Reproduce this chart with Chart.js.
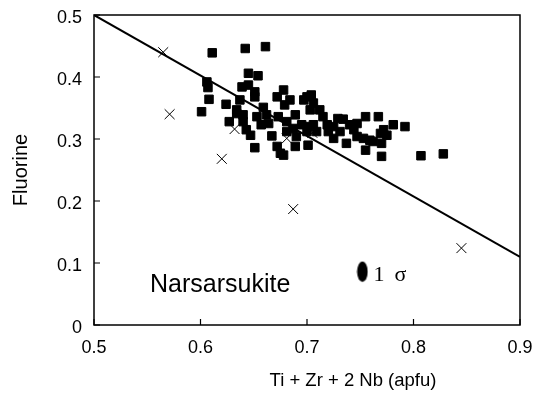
<!DOCTYPE html>
<html>
<head>
<meta charset="utf-8">
<script src="https://cdn.jsdelivr.net/npm/chart.js@4/dist/chart.umd.min.js"></script>
<style>
html,body{margin:0;padding:0;background:#fff;}
canvas{display:block;}
</style>
</head>
<body>
<canvas id="c" width="538" height="397"></canvas>
<script>
// Narsarsukite analyses (squares): Ti+Zr+2Nb vs F
const squareX = [0.611,0.642,0.661,0.606,0.607,0.608,0.601,0.624,0.645,0.654,0.639,0.645,0.651,0.651,0.637,0.634,0.640,0.640,0.627,0.659,0.647,0.651,0.657,0.664,0.667,0.672,0.675,0.678,0.673,0.672,0.678,0.684,0.679,0.681,0.689,0.687,0.689,0.695,0.697,0.700,0.704,0.706,0.703,0.712,0.715,0.719,0.720,0.701,0.700,0.701,0.725,0.729,0.734,0.731,0.737,0.740,0.747,0.755,0.747,0.753,0.755,0.759,0.762,0.767,0.769,0.772,0.770,0.775,0.781,0.792,0.770,0.807,0.828,0.653,0.662,0.643,0.634,0.681,0.690,0.706,0.725,0.744,0.709];
const squareY = [0.439,0.446,0.449,0.392,0.383,0.364,0.344,0.356,0.406,0.402,0.384,0.387,0.368,0.376,0.363,0.341,0.339,0.328,0.328,0.351,0.306,0.286,0.323,0.325,0.305,0.288,0.277,0.274,0.336,0.368,0.379,0.363,0.355,0.328,0.339,0.317,0.288,0.323,0.363,0.368,0.371,0.358,0.347,0.347,0.336,0.323,0.312,0.320,0.312,0.290,0.301,0.333,0.332,0.312,0.293,0.323,0.325,0.336,0.304,0.301,0.282,0.298,0.296,0.336,0.309,0.315,0.293,0.306,0.323,0.320,0.272,0.273,0.276,0.336,0.339,0.315,0.347,0.312,0.304,0.323,0.320,0.315,0.312];
// crosses
const crossX = [0.565,0.571,0.620,0.632,0.681,0.687,0.705,0.845];
const crossY = [0.440,0.340,0.268,0.316,0.301,0.187,0.310,0.124];
// reference line
const lineX = [0.5, 0.9];
const lineY = [0.5, 0.11];
// 1 sigma error symbol
const sigmaX = [0.752];
const sigmaY = [0.086];
// axis ticks
const xTicks = [0.5,0.6,0.7,0.8,0.9];
const yTicks = [0,0.1,0.2,0.3,0.4,0.5];
const xTitle = 'Ti + Zr + 2 Nb (apfu)';

const pts = (xs, ys) => xs.map((x,i)=>({x:x, y:ys[i]}));

// ellipse point style
const ell = document.createElement('canvas');
ell.width = 12; ell.height = 22;
(function(){
  const c = ell.getContext('2d');
  c.fillStyle = '#000';
  c.beginPath();
  c.ellipse(6, 11, 5.3, 10.2, 0, 0, Math.PI*2);
  c.fill();
})();

const framePlugin = {
  id: 'frame',
  afterDatasetsDraw(chart){
    const {ctx, chartArea: a, scales} = chart;
    ctx.save();
    ctx.strokeStyle = '#000';
    ctx.lineWidth = 1.5;
    ctx.strokeRect(a.left, a.top, a.right - a.left, a.bottom - a.top);
    ctx.lineWidth = 1.2;
    ctx.beginPath();
    xTicks.forEach(v => {
      const px = scales.x.getPixelForValue(v);
      ctx.moveTo(px, a.bottom); ctx.lineTo(px, a.bottom - 6);
    });
    yTicks.forEach(v => {
      const py = scales.y.getPixelForValue(v);
      ctx.moveTo(a.left, py); ctx.lineTo(a.left + 6, py);
    });
    ctx.stroke();
    // annotations
    ctx.fillStyle = '#000';
    ctx.textBaseline = 'alphabetic';
    ctx.textAlign = 'left';
    ctx.font = '25px "Liberation Sans", Arial, sans-serif';
    ctx.fillText('Narsarsukite', 150, 292);
    ctx.font = '22px "Liberation Serif", "Times New Roman", serif';
    const sx = scales.x.getPixelForValue(sigmaX[0]);
    const sy = scales.y.getPixelForValue(sigmaY[0]);
    ctx.fillText('1', sx + 11, sy + 9);
    ctx.fillText('σ', sx + 32, sy + 9);
    // x axis title (offset to the right as in the original figure)
    ctx.font = '18.5px "Liberation Sans", Arial, sans-serif';
    ctx.textAlign = 'center';
    ctx.textBaseline = 'middle';
    ctx.fillText(xTitle, 353, 381);
    ctx.restore();
  }
};

new Chart(document.getElementById('c'), {
  type: 'scatter',
  data: {
    datasets: [
      {
        type: 'line',
        data: pts(lineX, lineY),
        borderColor: '#000',
        borderWidth: 2,
        pointRadius: 0,
        fill: false,
        order: 3
      },
      {
        data: pts(squareX, squareY),
        pointStyle: 'rect',
        pointRadius: 6,
        backgroundColor: '#000',
        borderColor: '#000',
        borderWidth: 1,
        order: 1
      },
      {
        data: pts(crossX, crossY),
        pointStyle: 'crossRot',
        pointRadius: 7,
        borderColor: '#000',
        borderWidth: 1,
        order: 2
      },
      {
        data: pts(sigmaX, sigmaY),
        pointStyle: ell,
        order: 2
      }
    ]
  },
  options: {
    responsive: false,
    animation: false,
    devicePixelRatio: 1,
    layout: { padding: { left: 0, right: 18, top: 15, bottom: 0 } },
    plugins: { legend: { display: false }, tooltip: { enabled: false } },
    scales: {
      x: {
        type: 'linear',
        min: 0.5, max: 0.9,
        afterFit(s){ s.height = 72; },
        afterBuildTicks(s){ s.ticks = xTicks.map(v=>({value:v})); },
        grid: { display: false, drawTicks: true, tickLength: 12 },
        border: { display: false },
        ticks: {
          padding: 0,
          color: '#000',
          font: { family: '"Liberation Sans", Arial, sans-serif', size: 18 },
          callback: v => String(v)
        }
      },
      y: {
        type: 'linear',
        min: 0, max: 0.5,
        afterFit(s){ s.width = 94; },
        afterBuildTicks(s){ s.ticks = yTicks.map(v=>({value:v})); },
        grid: { display: false, drawTicks: true, tickLength: 12 },
        border: { display: false },
        ticks: {
          padding: 0,
          color: '#000',
          labelOffset: 3,
          font: { family: '"Liberation Sans", Arial, sans-serif', size: 18 },
          callback: v => String(v)
        },
        title: {
          display: true,
          text: 'Fluorine',
          color: '#000',
          font: { family: '"Liberation Sans", Arial, sans-serif', size: 20 },
          padding: { top: 9, bottom: 0 }
        }
      }
    }
  },
  plugins: [framePlugin]
});
</script>
</body>
</html>
